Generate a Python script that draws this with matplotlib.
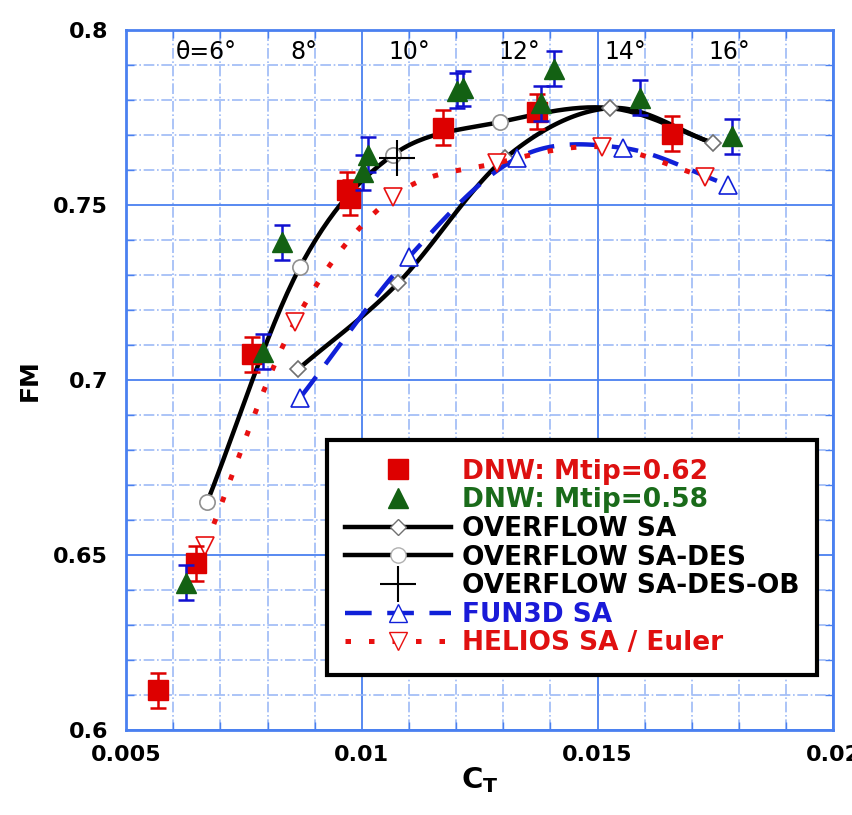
import numpy as np
import matplotlib.pyplot as plt
from matplotlib.ticker import MultipleLocator, FuncFormatter
from matplotlib.lines import Line2D

plt.rcParams['font.family'] = ['DejaVu Sans']

# DNW test, Mtip = 0.62 (red squares)
dnw62_ct = [0.00568, 0.00649, 0.00767, 0.00968, 0.00975, 0.01173, 0.01372, 0.01658]
dnw62_fm = [0.6114, 0.6477, 0.7074, 0.7543, 0.7520, 0.7720, 0.7766, 0.7703]
dnw62_err = [0.005, 0.005, 0.005, 0.005, 0.005, 0.005, 0.005, 0.005]

# DNW test, Mtip = 0.58 (green triangles)
dnw58_ct = [0.00627, 0.00790, 0.00831, 0.01003, 0.01013, 0.01202, 0.01215, 0.01380, 0.01408, 0.01590, 0.01786]
dnw58_fm = [0.6420, 0.7080, 0.7394, 0.7594, 0.7643, 0.7826, 0.7834, 0.7791, 0.7889, 0.7806, 0.7697]
dnw58_err = [0.005, 0.005, 0.005, 0.005, 0.005, 0.005, 0.005, 0.005, 0.005, 0.005, 0.005]

# OVERFLOW SA (theta = 8..16 deg)
ovf_sa_ct = [0.00865, 0.01077, 0.01304, 0.01527, 0.01745]
ovf_sa_fm = [0.7031, 0.7277, 0.7634, 0.7777, 0.7677]

# OVERFLOW SA-DES (theta = 6..16 deg)
ovf_des_ct = [0.00672, 0.00869, 0.01066, 0.01293, 0.01527, 0.01745]
ovf_des_fm = [0.6651, 0.7323, 0.7643, 0.7737, 0.7777, 0.7677]

# OVERFLOW SA-DES-OB (single case)
ovf_ob_ct = [0.01075]
ovf_ob_fm = [0.7634]

# FUN3D SA
fun3d_ct = [0.00869, 0.01100, 0.01330, 0.01554, 0.01777]
fun3d_fm = [0.6949, 0.7351, 0.7634, 0.7663, 0.7557]

# HELIOS SA / Euler
helios_ct = [0.00668, 0.00858, 0.01066, 0.01287, 0.01510, 0.01728]
helios_fm = [0.6526, 0.7166, 0.7523, 0.7620, 0.7666, 0.7580]

# collective pitch annotations along the top
theta_labels = ['θ=6°', '8°', '10°', '12°', '14°', '16°']
theta_ct = [0.00670, 0.00878, 0.01100, 0.01334, 0.01559, 0.01780]


def smooth(xs, ys, n=30):
    # uniform Catmull-Rom curve through the given points
    x = np.asarray(xs, float)
    y = np.asarray(ys, float)
    px = np.r_[2 * x[0] - x[1], x, 2 * x[-1] - x[-2]]
    py = np.r_[2 * y[0] - y[1], y, 2 * y[-1] - y[-2]]
    t = np.linspace(0, 1, n)
    outx, outy = [], []
    for i in range(1, len(px) - 2):
        for p, out in ((px, outx), (py, outy)):
            p0, p1, p2, p3 = p[i - 1], p[i], p[i + 1], p[i + 2]
            out.extend(0.5 * (2 * p1 + (-p0 + p2) * t
                              + (2 * p0 - 5 * p1 + 4 * p2 - p3) * t ** 2
                              + (-p0 + 3 * p1 - 3 * p2 + p3) * t ** 3))
    return outx, outy


fig = plt.figure(figsize=(8.52, 8.15), dpi=100)
ax = fig.add_axes([0.148, 0.1043, 0.830, 0.8589])

blue_major = '#4a80f0'
blue_minor = '#9dbaf6'

ax.set_xlim(0.005, 0.02)
ax.set_ylim(0.6, 0.8)
ax.xaxis.set_major_locator(MultipleLocator(0.005))
ax.xaxis.set_minor_locator(MultipleLocator(0.001))
ax.yaxis.set_major_locator(MultipleLocator(0.05))
ax.yaxis.set_minor_locator(MultipleLocator(0.01))
fmt = FuncFormatter(lambda v, pos: f'{v:.4g}')
ax.xaxis.set_major_formatter(fmt)
ax.yaxis.set_major_formatter(fmt)
ax.grid(which='major', color=blue_major, lw=1.3, ls='-')
ax.grid(which='minor', color=blue_minor, lw=1.2, ls='-.')
ax.set_axisbelow(True)
for s in ax.spines.values():
    s.set_color(blue_major)
    s.set_linewidth(2)
ax.tick_params(which='both', direction='in', color=blue_major, top=True, right=True)
ax.tick_params(which='major', length=0, width=1.2)
ax.tick_params(which='minor', length=6, width=1)
ax.tick_params(axis='y', pad=13, labelsize=16)
ax.tick_params(axis='x', pad=11, labelsize=16)
for lab in ax.get_xticklabels() + ax.get_yticklabels():
    lab.set_fontweight('bold')

ax.set_xlabel(r'$\mathbf{C_T}$', fontsize=21, labelpad=0)
ax.set_ylabel('FM', fontsize=18, fontweight='bold', labelpad=8)

# CFD curves
sx, sy = smooth(ovf_des_ct, ovf_des_fm)
ax.plot(sx, sy, color='black', lw=3.2, zorder=3)
ax.plot(ovf_des_ct[:4], ovf_des_fm[:4], ls='none', marker='o', ms=11,
        mfc='white', mec='#909090', mew=1.2, zorder=3.1)

sx, sy = smooth(ovf_sa_ct, ovf_sa_fm)
ax.plot(sx, sy, color='black', lw=3.2, zorder=3)
ax.plot(ovf_sa_ct, ovf_sa_fm, ls='none', marker='D', ms=8,
        mfc='white', mec='#707070', mew=1.2, zorder=3.2)

ax.plot(ovf_ob_ct, ovf_ob_fm, ls='none', marker='+', ms=26, mew=1.5,
        color='black', zorder=3.3)

sx, sy = smooth(fun3d_ct, fun3d_fm)
ax.plot(sx, sy, color='#1020d8', lw=3.2, dashes=(6, 3.5), zorder=4)
ax.plot(fun3d_ct, fun3d_fm, ls='none', marker='^', ms=13,
        mfc='white', mec='#1020d8', mew=1.2, zorder=4.1)

sx, sy = smooth(helios_ct, helios_fm)
ax.plot(sx, sy, color='#e81010', lw=3.6, dashes=(1.1, 3.6), zorder=4)
ax.plot(helios_ct, helios_fm, ls='none', marker='v', ms=13,
        mfc='white', mec='#e81010', mew=1.2, zorder=4.1)

# DNW test data with error bars
ax.errorbar(dnw62_ct, dnw62_fm, yerr=dnw62_err, fmt='s', ms=14,
            color='#dd0000', ecolor='#dd0000', elinewidth=1.8, capsize=5.5,
            capthick=1.8, zorder=5)
ax.errorbar(dnw58_ct, dnw58_fm, yerr=dnw58_err, fmt='^', ms=14,
            color='#136113', ecolor='#1010d0', elinewidth=1.8, capsize=5.5,
            capthick=1.8, zorder=5.5)

for lab, x in zip(theta_labels, theta_ct):
    ax.text(x, 0.7937, lab, ha='center', va='center', fontsize=17)

handles = [
    Line2D([], [], ls='none', marker='s', ms=14, color='#dd0000'),
    Line2D([], [], ls='none', marker='^', ms=14, color='#136113'),
    Line2D([], [], color='black', lw=3.2, marker='D', ms=8, mfc='white', mec='#707070'),
    Line2D([], [], color='black', lw=3.2, marker='o', ms=11, mfc='white', mec='#b0b0b0'),
    Line2D([], [], ls='none', marker='+', ms=26, mew=1.5, color='black'),
    Line2D([], [], color='#1020d8', lw=3.2, dashes=(6, 3.5), marker='^', ms=13,
           mfc='white', mec='#1020d8'),
    Line2D([], [], color='#e81010', lw=3.6, dashes=(1.1, 3.6), marker='v', ms=13,
           mfc='white', mec='#e81010'),
]
labels = ['DNW: Mtip=0.62', 'DNW: Mtip=0.58', 'OVERFLOW SA', 'OVERFLOW SA-DES',
          'OVERFLOW SA-DES-OB', 'FUN3D SA', 'HELIOS SA / Euler']
label_colors = ['#dd1010', '#1a6b1a', 'black', 'black', 'black', '#1a1ad8', '#e01010']

leg = ax.legend(handles, labels, loc='upper left', bbox_to_anchor=(0.284, 0.414),
                prop={'weight': 'bold', 'size': 19}, handlelength=4.0,
                handletextpad=0.4, labelspacing=0.1, borderpad=0.7,
                borderaxespad=0, fancybox=False, framealpha=1, edgecolor='black')
leg.get_frame().set_linewidth(3)
leg.set_zorder(10)
for t, c in zip(leg.get_texts(), label_colors):
    t.set_color(c)

fig.savefig('out.png', dpi=100)
